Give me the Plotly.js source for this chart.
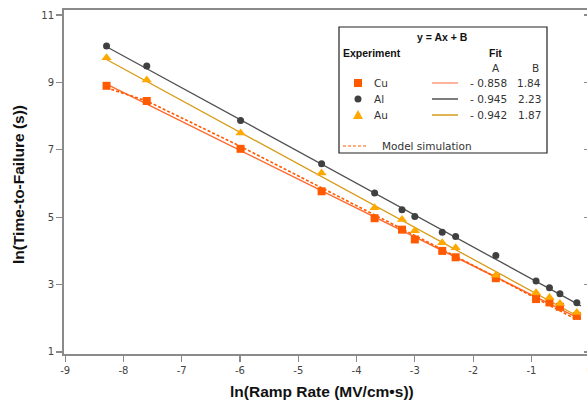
<!DOCTYPE html>
<html>
<head>
<meta charset="utf-8">
<script src="https://cdn.plot.ly/plotly-3.0.1.min.js"></script>
<style>
html,body{margin:0;padding:0;overflow:hidden;background:#fff;}
#chart{width:600px;height:402px;}
</style>
</head>
<body>
<div id="chart"></div>
<script>
// ---- data ----
var rampX = [-8.29, -7.6, -5.99, -4.6, -3.69, -3.22, -3.0, -2.53, -2.3, -1.61, -0.92, -0.69, -0.51, -0.22];
var cuY = [8.90, 8.45, 7.03, 5.77, 4.97, 4.63, 4.34, 4.00, 3.81, 3.19, 2.57, 2.47, 2.34, 2.07];
var alY = [10.08, 9.49, 7.87, 6.59, 5.72, 5.22, 5.02, 4.55, 4.43, 3.86, 3.11, 2.91, 2.73, 2.46];
var auY = [9.73, 9.07, 7.50, 6.31, 5.28, 4.93, 4.60, 4.24, 4.09, 3.28, 2.76, 2.62, 2.44, 2.17];

var modelX = [-8.29, -7.6, -5.99, -4.6, -3.69, -3.0, -2.3, -1.61, -0.92, -0.51, -0.22];
var modelY = [8.84, 8.45, 7.10, 5.88, 5.06, 4.46, 3.84, 3.22, 2.58, 2.22, 1.96];

var fitX = [-8.29, -0.15];
var cuFitY = [8.95, 1.97];
var alFitY = [10.06, 2.37];
var auFitY = [9.68, 2.01];

var seriesNames = ["Cu", "Al", "Au"];
var fitA = ["- 0.858", "- 0.945", "- 0.942"];
var fitB = ["1.84", "2.23", "1.87"];

var xTicks = [-9, -8, -7, -6, -5, -4, -3, -2, -1, 0];
var yTicks = [1, 3, 5, 7, 9, 11];

// ---- styles ----
var cCu = "#ff5a00", cCuLine = "#ff6a30", cCuLegLine = "#ff9a78";
var cAl = "#404040", cAlLine = "#505050";
var cAu = "#ffa800", cAuLine = "#d89a18";
var axisCol = "#8a8a8a";
var tickFont = {family: "DejaVu Sans", size: 10, color: "#444"};

var L = 64, R = 8, T = 10, B = 48, W = 600, H = 402;
var pw = W - L - R, ph = H - T - B;
function px(x){ return (x - L) / pw; }
function py(y){ return (H - B - y) / ph; }

var traces = [
  {x: fitX, y: cuFitY, mode: "lines", line: {color: cCuLine, width: 1.5}, showlegend: false, hoverinfo: "skip"},
  {x: modelX, y: modelY, mode: "lines", line: {color: cCu, width: 1.6, dash: "3px,2px"}, showlegend: false, hoverinfo: "skip"},
  {x: fitX, y: auFitY, mode: "lines", line: {color: cAuLine, width: 1.3}, showlegend: false, hoverinfo: "skip"},
  {x: fitX, y: alFitY, mode: "lines", line: {color: cAlLine, width: 1.3}, showlegend: false, hoverinfo: "skip"},
  {x: rampX, y: cuY, mode: "markers", name: seriesNames[0], marker: {symbol: "square", size: 8, color: cCu}, showlegend: false},
  {x: rampX, y: alY, mode: "markers", name: seriesNames[1], marker: {symbol: "circle", size: 7, color: cAl}, showlegend: false},
  {x: rampX, y: auY, mode: "markers", name: seriesNames[2], marker: {symbol: "triangle-up", size: 9, color: cAu}, showlegend: false},
  {x: [null], y: [null], yaxis: "y2", showlegend: false, hoverinfo: "skip"}
];

var shapes = [];
var ann = [];

// legend box
shapes.push({type: "rect", xref: "paper", yref: "paper", x0: px(339), x1: px(547), y0: py(153), y1: py(27),
  line: {color: "#222", width: 1.2}, fillcolor: "#fff", layer: "above"});

var boldF = {family: "Liberation Sans", size: 10.5, color: "#111"};
var thinF = {family: "DejaVu Sans", size: 10.5, color: "#333"};

function txt(t, x, y, font, xanchor){
  ann.push({text: t, xref: "paper", yref: "paper", x: px(x), y: py(y), xanchor: xanchor || "center", yanchor: "middle",
    showarrow: false, font: font});
}
txt("<b>y = Ax + B</b>", 442, 37, boldF);
txt("<b>Experiment</b>", 341, 53, boldF, "left");
txt("<b>Fit</b>", 495, 53, boldF);
txt("A", 496, 68, thinF);
txt("B", 535, 68, thinF);

var rowY = [83, 99, 115];
var legLine = [cCuLegLine, cAlLine, cAuLine];
for (var i = 0; i < 3; i++) {
  txt(seriesNames[i], 372, rowY[i], thinF, "left");
  txt(fitA[i], 509, rowY[i], thinF, "right");
  txt(fitB[i], 543, rowY[i], thinF, "right");
  shapes.push({type: "line", xref: "paper", yref: "paper", x0: px(432), x1: px(458), y0: py(rowY[i]), y1: py(rowY[i]),
    line: {color: legLine[i], width: 1.5}, layer: "above"});
}
// legend markers
var mx = 358;
shapes.push({type: "rect", xref: "paper", yref: "paper", x0: px(mx - 4), x1: px(mx + 4), y0: py(rowY[0] + 4), y1: py(rowY[0] - 4),
  line: {width: 0}, fillcolor: cCu, layer: "above"});
shapes.push({type: "circle", xref: "paper", yref: "paper", x0: px(mx - 3.5), x1: px(mx + 3.5), y0: py(rowY[1] + 3.5), y1: py(rowY[1] - 3.5),
  line: {width: 0}, fillcolor: cAl, layer: "above"});
shapes.push({type: "path", xref: "paper", yref: "paper",
  path: "M " + px(mx - 5) + " " + py(rowY[2] + 4) + " L " + px(mx + 5) + " " + py(rowY[2] + 4) + " L " + px(mx) + " " + py(rowY[2] - 5) + " Z",
  line: {width: 0}, fillcolor: cAu, layer: "above"});
// model simulation
shapes.push({type: "line", xref: "paper", yref: "paper", x0: px(343), x1: px(368), y0: py(146), y1: py(146),
  line: {color: cCu, width: 1.2, dash: "3px,2px"}, layer: "above"});
txt("Model simulation", 380, 146, thinF, "left");

// axis titles
var titleF = {family: "Liberation Sans", size: 15.5, color: "#111"};
ann.push({text: "<b>ln(Ramp Rate (MV/cm•s))</b>", xref: "paper", yref: "paper", x: px(322), y: py(391),
  xanchor: "center", yanchor: "middle", showarrow: false, font: titleF});
ann.push({text: "<b>ln(Time-to-Failure (s))</b>", xref: "paper", yref: "paper", x: px(18), y: py(185),
  xanchor: "center", yanchor: "middle", showarrow: false, textangle: -90, font: titleF});

var layout = {
  width: W, height: H,
  margin: {l: L, r: R, t: T, b: B},
  paper_bgcolor: "#fff", plot_bgcolor: "#fff",
  showlegend: false,
  xaxis: {range: [-9.02, 0.04], tickvals: xTicks, ticktext: xTicks.map(String), ticks: "outside", ticklen: 6,
    tickcolor: axisCol, tickwidth: 1.2, showline: true, linecolor: axisCol, linewidth: 2, mirror: true,
    showgrid: false, zeroline: false, tickfont: tickFont},
  yaxis: {range: [0.94, 11.15], tickvals: yTicks, ticktext: yTicks.map(String), ticks: "outside", ticklen: 6,
    tickcolor: axisCol, tickwidth: 1.2, showline: true, linecolor: axisCol, linewidth: 2, mirror: true,
    showgrid: false, zeroline: false, tickfont: tickFont},
  yaxis2: {overlaying: "y", side: "right", anchor: "x", range: [0.94, 11.15], tickvals: yTicks, ticks: "inside",
    ticklen: 8, tickcolor: axisCol, tickwidth: 1.2, showticklabels: false, showline: false, showgrid: false, zeroline: false},
  shapes: shapes,
  annotations: ann
};

Plotly.newPlot("chart", traces, layout, {displayModeBar: false, staticPlot: true});
</script>
</body>
</html>
